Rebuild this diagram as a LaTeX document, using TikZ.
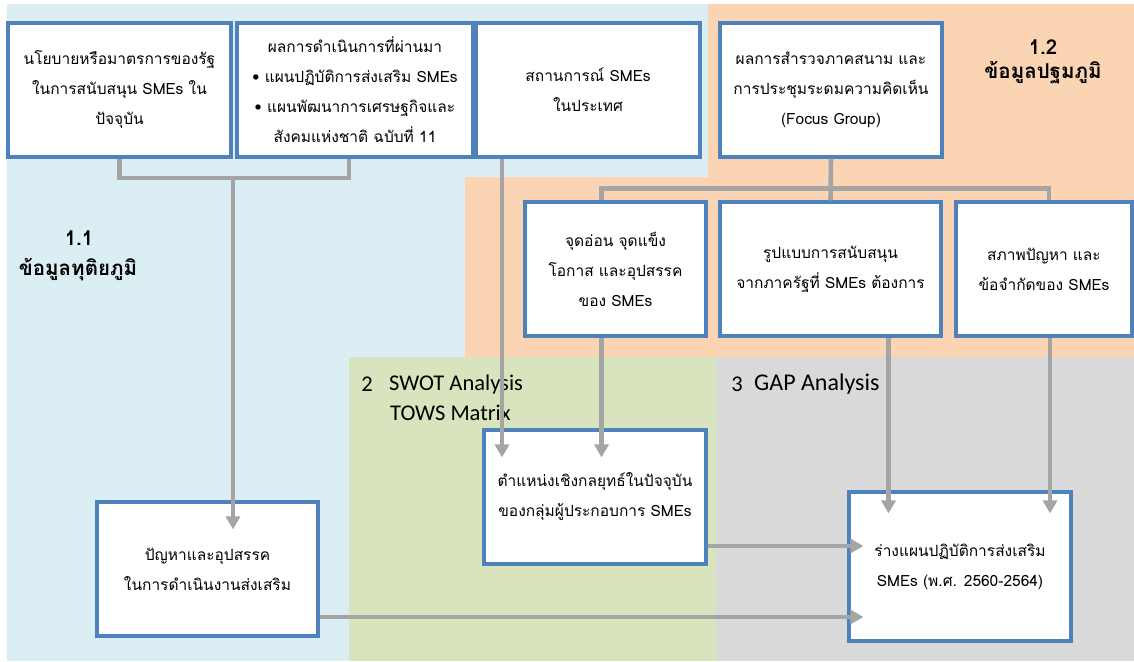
\documentclass[tikz,border=0pt]{standalone}
\usepackage{fontspec}
\setmainfont{Carlito}
\newfontfamily\thai[Script=Thai]{Loma}
\usetikzlibrary{arrows.meta,calc}

\definecolor{bgblue}{HTML}{DBEEF4}
\definecolor{bgorange}{HTML}{FBD4B4}
\definecolor{bggreen}{HTML}{D7E4BD}
\definecolor{bggray}{HTML}{D9D9D9}
\definecolor{boxblue}{HTML}{4F81BD}
\definecolor{linegray}{HTML}{A5A5A5}

\tikzset{
  box/.style={draw=boxblue, line width=3.2pt, fill=white, inner sep=0pt,
    minimum height=134pt, align=center,
    font=\thai\fontsize{15.5}{30}\selectfont},
  conn/.style={draw=linegray, line width=4.6pt},
  arr/.style={conn, -{Triangle[width=14pt,length=13pt]}},
  heading/.style={font=\thai\bfseries\fontsize{20.5}{24}\selectfont, inner sep=0pt},
  stage/.style={font=\fontsize{22.5}{26}\selectfont, inner sep=0pt},
}

\begin{document}
\begin{tikzpicture}[x=1pt,y=-1pt]
\useasboundingbox (0,0) rectangle (1134,661);

% background zones
\fill[bgblue] (7,4) rectangle (1134,661);
\fill[bgorange] (708,4) -- (1134,4) -- (1134,357) -- (465,357) -- (465,177) -- (708,177) -- cycle;
\fill[bggreen] (349,357) rectangle (716,661);
\fill[bggray] (716,357) rectangle (1134,661);

% top row
\node[box, minimum width=223pt] (A) at (119.5,90) {นโยบายหรือมาตรการของรัฐ\\ในการสนับสนุน SMEs ใน\\ปัจจุบัน};
\node[box, minimum width=236pt] (B) at (355,90) {ผลการดำเนินการที่ผ่านมา\\• แผนปฏิบัติการส่งเสริม SMEs\\• แผนพัฒนาการเศรษฐกิจและ\\สังคมแห่งชาติ ฉบับที่ 11};
\node[box, minimum width=224pt] (C) at (588,90) {สถานการณ์ SMEs\\ในประเทศ};
\node[box, minimum width=222pt] (D) at (831,90) {ผลการสำรวจภาคสนาม และ\\การประชุมระดมความคิดเห็น\\(Focus Group)};

% second row
\node[box, minimum width=181pt] (H) at (615.5,269) {จุดอ่อน จุดแข็ง\\โอกาส และอุปสรรค\\ของ SMEs};
\node[box, minimum width=221pt] (I) at (830.5,269) {รูปแบบการสนับสนุน\\จากภาครัฐที่ SMEs ต้องการ};
\node[box, minimum width=176pt] (J) at (1044,269) {สภาพปัญหา และ\\ข้อจำกัดของ SMEs};

% lower boxes
\node[box, minimum width=222pt] (F) at (595,497) {ตำแหน่งเชิงกลยุทธ์ในปัจจุบัน\\ของกลุ่มผู้ประกอบการ SMEs};
\node[box, minimum width=221pt] (E) at (207.5,569) {ปัญหาและอุปสรรค\\ในการดำเนินงานส่งเสริม};
\node[box, minimum width=222pt, minimum height=149pt] (G) at (960,566.5) {ร่างแผนปฏิบัติการส่งเสริม\\SMEs (พ.ศ. 2560-2564)};

% headings
\node[heading] (h11a) at (79,238) {1.1};
\node[heading] (h11b) at (78,270) {ข้อมูลทุติยภูมิ};
\node[heading] (h12a) at (1043,47) {1.2};
\node[heading] (h12b) at (1043,73) {ข้อมูลปฐมภูมิ};
\node[stage] (s2n) at (367,384) {2};
\node[stage, anchor=west] (s2a) at (389,384) {SWOT Analysis};
\node[stage, anchor=west] (s2b) at (390,413) {TOWS Matrix};
\node[stage] (s3n) at (737,384) {3};
\node[stage, anchor=west, font=\fontsize{24}{26}\selectfont] (s3a) at (754,384) {GAP Analysis};

% secondary data feeding the problems box
\coordinate (abj) at (233,178);
\draw[conn] (A.south) |- (abj) -| ($(B.south)+(-6,0)$);
\draw[arr, shorten >=-29pt] (abj) -- (abj |- E.north);

% domestic situation into strategic position
\coordinate (c1) at ($(C.south)+(-86,0)$);
\draw[arr, shorten >=-29pt] (c1) -- (c1 |- F.north);

% primary data branching
\coordinate (dj) at ($(D.south)+(0,30)$);
\coordinate (h1) at ($(H.north)+(-14,0)$);
\coordinate (j1) at ($(J.north)+(5,0)$);
\draw[conn] (D.south) -- (I.north);
\draw[conn] (h1) |- (dj) -| (j1);

% second row into lower boxes
\coordinate (h2) at ($(H.south)+(-14,0)$);
\draw[arr, shorten >=-29pt] (h2) -- (h2 |- F.north);
\coordinate (i2) at ($(I.south)+(58,0)$);
\draw[arr, shorten >=-23pt] (i2) -- (i2 |- G.north);
\coordinate (j2) at ($(J.south)+(6,0)$);
\draw[arr, shorten >=-23pt] (j2) -- (j2 |- G.north);

% into the draft plan
\coordinate (f1) at ($(F.east)+(0,49)$);
\draw[arr, shorten >=-16pt] (f1) -- (f1 -| G.west);
\coordinate (e1) at ($(E.east)+(0,48)$);
\draw[arr, shorten >=-16pt] (e1) -- (e1 -| G.west);
\end{tikzpicture}
\end{document}
